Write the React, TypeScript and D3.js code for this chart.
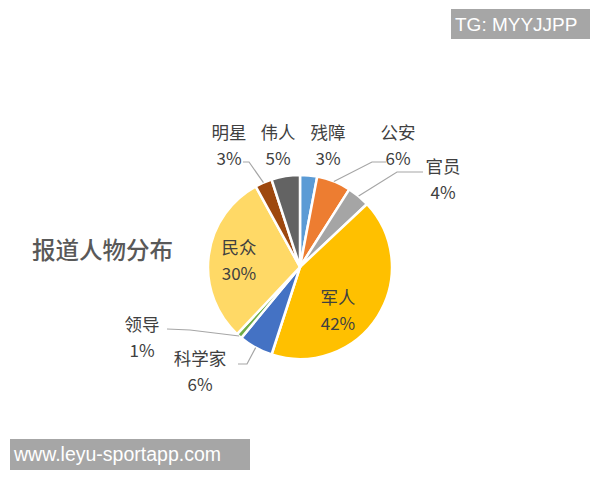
import React from "react";
import * as d3 from "d3";

const categories = ["残障", "公安", "官员", "军人", "科学家", "领导", "民众", "明星", "伟人"];
const values = [3, 6, 4, 42, 6, 1, 30, 3, 5];
const colors = ["#5B9BD5", "#ED7D31", "#A5A5A5", "#FFC000", "#4472C4", "#70AD47", "#FFD966", "#9E480E", "#636363"];
const title = "报道人物分布";

// label layout: [x, y of name line] ; leader: elbow points (or null)
const labelLayout: Record<string, { x: number; y: number; inside?: boolean; leader?: [number, number][] }> = {
  残障: { x: 328, y: 131 },
  公安: { x: 398, y: 131, leader: [[372, 162], [386, 162]] },
  官员: { x: 443, y: 165, leader: [[397, 172], [423, 172]] },
  军人: { x: 338, y: 296, inside: true },
  科学家: { x: 200, y: 357, leader: [[247, 364], [238, 364]] },
  领导: { x: 142, y: 323, leader: [[190, 330], [167, 329]] },
  民众: { x: 239, y: 246, inside: true },
  明星: { x: 229, y: 131, leader: [[249, 162], [243, 162]] },
  伟人: { x: 278, y: 131 },
};

export default function App() {
  const cx = 300, cy = 267, r = 92;
  const pie = d3.pie<number>().sort(null).value((d) => d)(values);
  const arc = d3.arc<d3.PieArcDatum<number>>().innerRadius(0).outerRadius(r);
  const font = "'Noto Sans CJK SC', 'Noto Sans', sans-serif";
  return (
    <svg width={600} height={480} style={{ position: "absolute", left: 0, top: 0, background: "#fff" }} fontFamily={font}>
      <rect x={0} y={0} width={600} height={480} fill="#fff" />
      <text x={32} y={259} fontSize={23.5} fill="#595959" fontWeight={500}>{title}</text>
      <g transform={`translate(${cx},${cy})`}>
        {pie.map((p, i) => (
          <path key={i} d={arc(p) || ""} fill={colors[i]} stroke="#fff" strokeWidth={2.5} strokeLinejoin="round" />
        ))}
      </g>
      {pie.map((p, i) => {
        const name = categories[i];
        const L = labelLayout[name];
        const mid = (p.startAngle + p.endAngle) / 2;
        const sx = cx + r * Math.sin(mid);
        const sy = cy - r * Math.cos(mid);
        const pts = L.leader ? [[sx, sy], ...L.leader] : null;
        return (
          <g key={name}>
            {pts && (
              <polyline points={pts.map((q) => q.join(",")).join(" ")} fill="none" stroke="#A6A6A6" strokeWidth={1.2} />
            )}
            <text x={L.x} y={L.y} fontSize={17.5} fill="#404040" textAnchor="middle" dominantBaseline="central">{name}</text>
            <text x={L.x} y={L.y + 26} fontSize={17} fill="#404040" textAnchor="middle" dominantBaseline="central">{values[i]}%</text>
          </g>
        );
      })}
      <rect x={451} y={9} width={139} height={30} fill="#A6A6A6" />
      <text x={455} y={31} fontSize={19} fill="#fff" fontFamily="'Liberation Sans', Arial, sans-serif">TG: MYYJJPP</text>
      <rect x={10} y={439} width={240} height={31} fill="#A6A6A6" />
      <text x={14} y={461} fontSize={19.5} fill="#fff" fontFamily="'Liberation Sans', Arial, sans-serif">www.leyu-sportapp.com</text>
    </svg>
  );
}
